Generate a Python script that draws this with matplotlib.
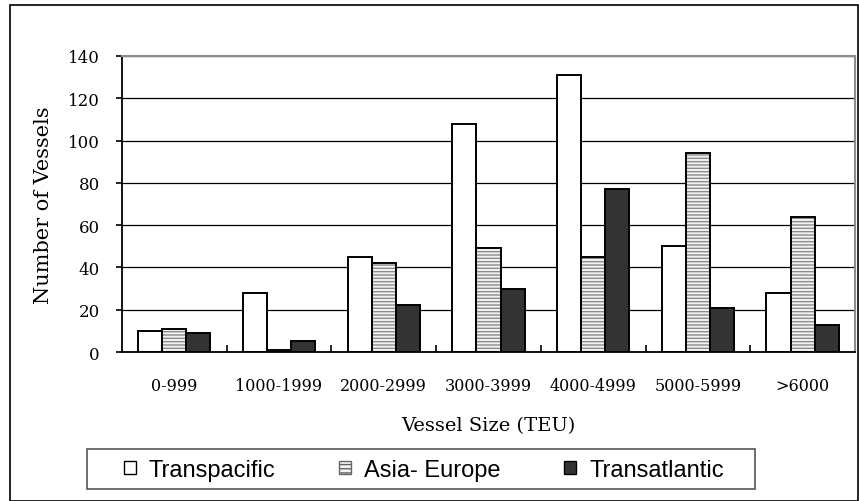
import matplotlib
matplotlib.use("Agg")
import matplotlib.pyplot as plt
from matplotlib.patches import Rectangle
import numpy as np

categories = ["0-999", "1000-1999", "2000-2999", "3000-3999", "4000-4999", "5000-5999", ">6000"]
transpacific = [10, 28, 45, 108, 131, 50, 28]
asia_europe = [11, 1, 42, 49, 45, 94, 64]
transatlantic = [9, 5, 22, 30, 77, 21, 13]
yticks = [0, 20, 40, 60, 80, 100, 120, 140]

serif = "DejaVu Serif"
sans = "Liberation Sans"

fig = plt.figure(figsize=(8.59, 5.02), dpi=100)
ax = fig.add_axes([0.142, 0.2968, 0.8533, 0.5897])

x = np.arange(len(categories))
w = 0.23

# gridlines behind bars
ax.set_axisbelow(True)
ax.yaxis.grid(True, color="black", lw=0.9)

ax.bar(x - w, transpacific, w, color="white", edgecolor="black", lw=1.4)
# hatch for Asia-Europe drawn in gray, then a black outline on top
ax.bar(x, asia_europe, w, color="#f2f2f2", edgecolor="#8c8c8c", hatch="-----", lw=0)
ax.bar(x, asia_europe, w, color="none", edgecolor="black", lw=1.4)
ax.bar(x + w, transatlantic, w, color="#333333", edgecolor="black", lw=1.4)

ax.set_xlim(-0.5, len(categories) - 0.5)
ax.set_ylim(0, 140)
ax.set_yticks(yticks)
ax.set_yticklabels([str(v) for v in yticks], fontfamily=serif, fontsize=12)
ax.set_xticks(x)
ax.set_xticklabels(categories, fontfamily=serif, fontsize=11.5)
ax.tick_params(axis="x", which="major", length=0, pad=18)
ax.set_xticks(x[:-1] + 0.5, minor=True)
ax.tick_params(axis="x", which="minor", direction="in", length=5, width=1.2)
ax.tick_params(axis="y", direction="out", length=4, width=1.2, pad=12)

for s in ["left", "bottom"]:
    ax.spines[s].set_color("black")
    ax.spines[s].set_linewidth(1.3)
for s in ["top", "right"]:
    ax.spines[s].set_color("#8c8c8c")
    ax.spines[s].set_linewidth(1.5)

ax.set_ylabel("Number of Vessels", fontfamily=serif, fontsize=15, labelpad=11)
ax.set_xlabel("Vessel Size (TEU)", fontfamily=serif, fontsize=14, labelpad=16)

# legend box and entries
fig.patches.append(Rectangle((87 / 859, 1 - 490 / 502), 668 / 859, 40 / 502,
                             transform=fig.transFigure, facecolor="white",
                             edgecolor="#555555", lw=1.2))
h1 = Rectangle((0, 0), 1, 1, facecolor="white", edgecolor="black", lw=1)
h2 = Rectangle((0, 0), 1, 1, facecolor="#f2f2f2", edgecolor="#666666", hatch="----", lw=1)
h3 = Rectangle((0, 0), 1, 1, facecolor="#333333", edgecolor="black", lw=1)
fig.legend([h1, h2, h3], ["Transpacific", "Asia- Europe", "Transatlantic"],
           loc="center", bbox_to_anchor=(424 / 859, 1 - 471 / 502),
           ncol=3, frameon=False,
           handlelength=0.5, handleheight=0.5, handletextpad=0.55,
           columnspacing=2.7, borderaxespad=0, borderpad=0,
           prop={"family": sans, "size": 17})

# outer chart border
fig.patches.append(Rectangle((10 / 859, 0.0), 848 / 859, 496 / 502,
                             transform=fig.transFigure, fill=False,
                             edgecolor="black", lw=1.2))

fig.savefig("out.png", dpi=100)
